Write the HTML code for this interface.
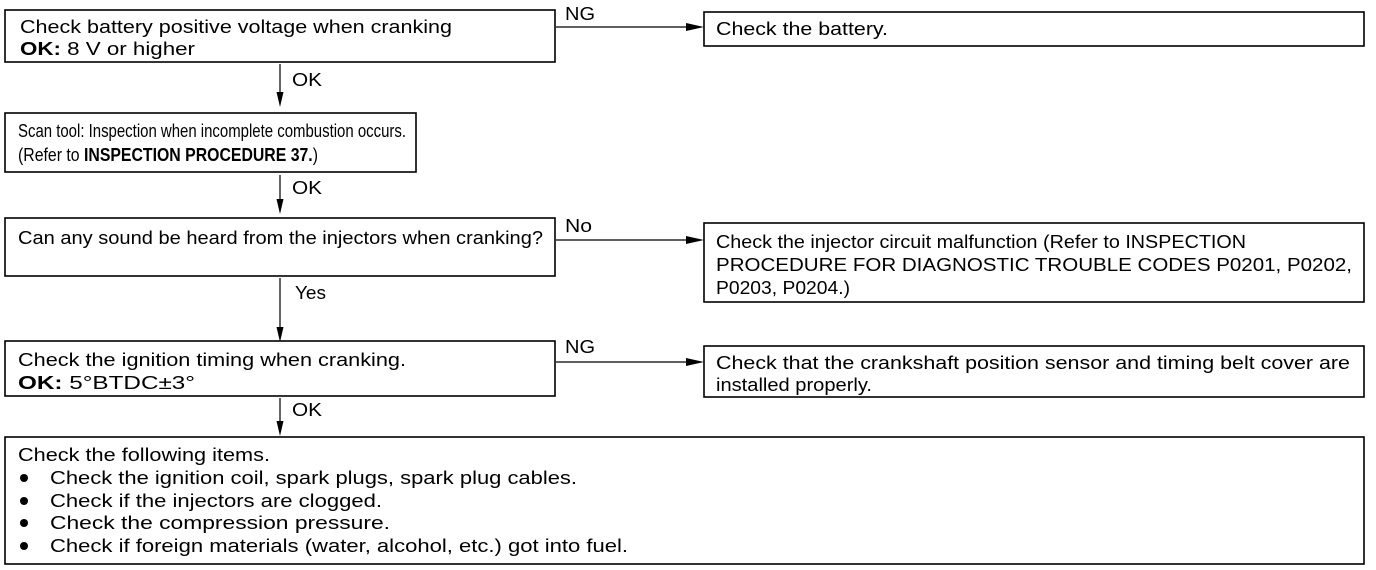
<!DOCTYPE html>
<html><head><meta charset="utf-8"><style>
html,body{margin:0;padding:0;background:#fff;}
svg{display:block;}
text{font-family:"Liberation Sans",Arial,sans-serif;font-size:18px;fill:#000;}
.b{font-weight:bold;}
rect{fill:none;stroke:#000;stroke-width:1.6;}
line{stroke:#000;stroke-width:1.2;}
</style></head><body>
<svg width="1376" height="570" viewBox="0 0 1376 570" xmlns="http://www.w3.org/2000/svg">
<rect x="5" y="10" width="550" height="52"/>
<text x="20" y="33" textLength="432" lengthAdjust="spacingAndGlyphs">Check battery positive voltage when cranking</text>
<text x="20" y="55" textLength="175" lengthAdjust="spacingAndGlyphs"><tspan class="b">OK:</tspan> 8 V or higher</text>
<line x1="556" y1="27" x2="690" y2="27"/>
<polygon points="686,23 704,27 686,31"/>
<text x="565" y="20" textLength="30" lengthAdjust="spacingAndGlyphs">NG</text>
<rect x="704" y="12" width="660" height="34"/>
<text x="716" y="35" textLength="172" lengthAdjust="spacingAndGlyphs">Check the battery.</text>

<line x1="280" y1="64" x2="280" y2="96"/>
<polygon points="276.5,92 280,107 283.5,92"/>
<text x="292" y="86" textLength="30" lengthAdjust="spacingAndGlyphs">OK</text>

<rect x="5" y="113" width="411" height="59"/>
<text x="18" y="137" textLength="388" lengthAdjust="spacingAndGlyphs">Scan tool: Inspection when incomplete combustion occurs.</text>
<text x="18" y="161" textLength="300" lengthAdjust="spacingAndGlyphs">(Refer to <tspan class="b">INSPECTION PROCEDURE 37.</tspan>)</text>

<line x1="280" y1="175" x2="280" y2="203"/>
<polygon points="276.5,199 280,214 283.5,199"/>
<text x="292" y="194" textLength="30" lengthAdjust="spacingAndGlyphs">OK</text>

<rect x="5" y="218" width="550" height="58"/>
<text x="18" y="244" textLength="525" lengthAdjust="spacingAndGlyphs">Can any sound be heard from the injectors when cranking?</text>
<line x1="556" y1="240" x2="690" y2="240"/>
<polygon points="686,236 704,240 686,244"/>
<text x="565" y="232" textLength="27" lengthAdjust="spacingAndGlyphs">No</text>
<rect x="704" y="223" width="660" height="79"/>
<text x="716" y="248" textLength="530" lengthAdjust="spacingAndGlyphs">Check the injector circuit malfunction (Refer to INSPECTION</text>
<text x="716" y="271" textLength="636" lengthAdjust="spacingAndGlyphs">PROCEDURE FOR DIAGNOSTIC TROUBLE CODES P0201, P0202,</text>
<text x="716" y="294" textLength="134" lengthAdjust="spacingAndGlyphs">P0203, P0204.)</text>

<line x1="280" y1="278" x2="280" y2="331"/>
<polygon points="276.5,327 280,342 283.5,327"/>
<text x="295" y="299" textLength="31" lengthAdjust="spacingAndGlyphs">Yes</text>

<rect x="5" y="341" width="550" height="55"/>
<text x="18" y="366" textLength="388" lengthAdjust="spacingAndGlyphs">Check the ignition timing when cranking.</text>
<text x="18" y="389" textLength="177" lengthAdjust="spacingAndGlyphs"><tspan class="b">OK:</tspan> 5°BTDC±3°</text>
<line x1="556" y1="362" x2="690" y2="362"/>
<polygon points="686,358 704,362 686,366"/>
<text x="565" y="353" textLength="30" lengthAdjust="spacingAndGlyphs">NG</text>
<rect x="704" y="346" width="660" height="51"/>
<text x="716" y="369" textLength="634" lengthAdjust="spacingAndGlyphs">Check that the crankshaft position sensor and timing belt cover are</text>
<text x="716" y="391" textLength="156" lengthAdjust="spacingAndGlyphs">installed properly.</text>

<line x1="280" y1="398" x2="280" y2="425"/>
<polygon points="276.5,421 280,436 283.5,421"/>
<text x="292" y="416" textLength="30" lengthAdjust="spacingAndGlyphs">OK</text>

<rect x="5" y="437" width="1359" height="127"/>
<text x="18" y="461" textLength="252" lengthAdjust="spacingAndGlyphs">Check the following items.</text>
<circle cx="24" cy="478" r="4"/>
<text x="50" y="484" textLength="527" lengthAdjust="spacingAndGlyphs">Check the ignition coil, spark plugs, spark plug cables.</text>
<circle cx="24" cy="501" r="4"/>
<text x="50" y="507" textLength="332" lengthAdjust="spacingAndGlyphs">Check if the injectors are clogged.</text>
<circle cx="24" cy="523" r="4"/>
<text x="50" y="529" textLength="340" lengthAdjust="spacingAndGlyphs">Check the compression pressure.</text>
<circle cx="24" cy="546" r="4"/>
<text x="50" y="552" textLength="578" lengthAdjust="spacingAndGlyphs">Check if foreign materials (water, alcohol, etc.) got into fuel.</text>
</svg>
</body></html>
